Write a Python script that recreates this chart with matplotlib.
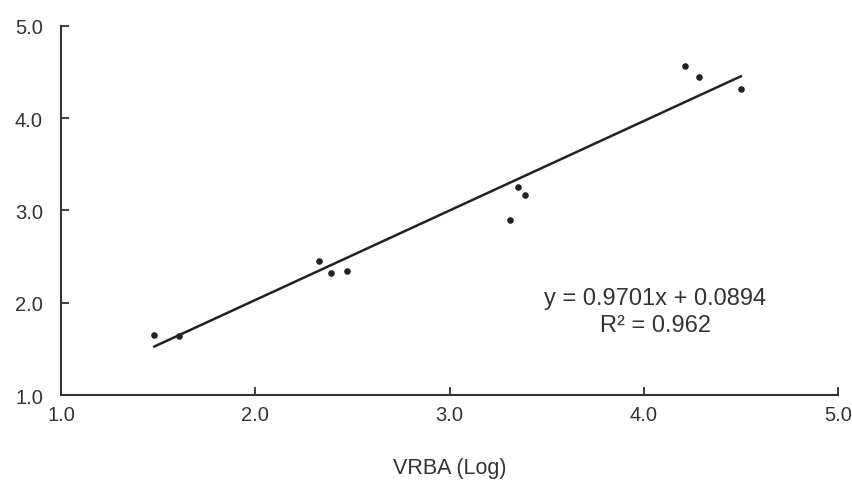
import matplotlib
matplotlib.use("Agg")
import matplotlib.pyplot as plt
import numpy as np

plt.rcParams['font.family'] = ['Liberation Sans', 'DejaVu Sans']

x_vals = [1.48, 1.61, 2.33, 2.39, 2.47, 3.31, 3.35, 3.39, 4.21, 4.285, 4.50]
y_vals = [1.65, 1.64, 2.45, 2.32, 2.34, 2.90, 3.25, 3.17, 4.57, 4.45, 4.32]
slope = 0.9701
intercept = 0.0894
r2_text = "0.962"
ticks = [1.0, 2.0, 3.0, 4.0, 5.0]
tick_labels = ["1.0", "2.0", "3.0", "4.0", "5.0"]

fig = plt.figure(figsize=(8.52, 4.81), dpi=100)
ax = fig.add_axes([0.0716, 0.1767, 0.9120, 0.7672])
txt = '#333333'
ax.scatter(x_vals, y_vals, s=14, color='#222222', zorder=3)
xl = np.array([min(x_vals), max(x_vals)])
ax.plot(xl, slope * xl + intercept, color='#222222', lw=1.8)

ax.set_xlim(1.0, 5.0)
ax.set_ylim(1.0, 5.0)
ax.set_xticks(ticks)
ax.set_xticklabels(tick_labels)
ax.set_yticks(ticks)
ax.set_yticklabels(tick_labels)
for s in ['top', 'right']:
    ax.spines[s].set_visible(False)
for s in ['left', 'bottom']:
    ax.spines[s].set_color('#333333')
    ax.spines[s].set_linewidth(1.5)
ax.tick_params(direction='in', length=6, width=1.3, color='#333333',
               labelsize=14.5, labelcolor=txt)
ax.tick_params(axis='y', pad=13)
ax.tick_params(axis='x', pad=7)
ax.set_xlabel("VRBA (Log)", fontsize=15.5, color=txt, labelpad=24)

ax.text(4.06, 2.05, f"y = {slope:.4f}x + {intercept:.4f}", fontsize=17,
        color=txt, ha='center', va='center')
ax.text(4.06, 1.76, f"R\u00b2 = {r2_text}", fontsize=17,
        color=txt, ha='center', va='center')

fig.savefig("out.png", dpi=100)
